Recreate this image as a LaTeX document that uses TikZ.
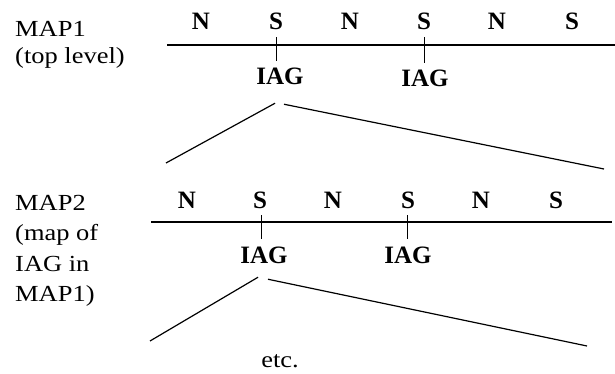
\documentclass[tikz,border=0pt]{standalone}
\usepackage{fontspec}
\setmainfont{Liberation Serif}
\begin{document}
\begin{tikzpicture}[
              x=1pt, y=-1pt,
              pole/.style={font=\fontsize{25}{25}\selectfont\bfseries,anchor=base,inner sep=0pt,outer sep=7pt},
              gap/.style={font=\fontsize{25}{25}\selectfont\bfseries,anchor=base,inner sep=0pt,outer sep=7pt},
              title/.style={anchor=north west,align=left,inner sep=0pt,xscale=1.15},
              axis/.style={line width=1.6pt},
              tick/.style={line width=0.8pt},
              fan/.style={line width=1.2pt}
            ]
            \useasboundingbox (0,0) rectangle (615,374);

            % Map 1: top level
            \node[title,font=\fontsize{23}{27}\selectfont] (map1) at (15,21) {MAP1\\(top level)};
            \coordinate (a1) at (167,45);
            \coordinate (b1) at (615,45);
            \draw[axis] (a1) -- (b1);
            \node[pole] (n11) at (201,30) {N};
            \node[pole] (s12) at (276,30) {S};
            \node[pole] (n13) at (350,30) {N};
            \node[pole] (s14) at (424,30) {S};
            \node[pole] (n15) at (497,30) {N};
            \node[pole] (s16) at (572,30) {S};
            \node[gap] (iag12) at (280,85) {IAG};
            \node[gap] (iag14) at (425,87) {IAG};
            \draw[tick] (s12.south) -- (s12.south |- iag12.north);
            \draw[tick] (s14.south) -- (s14.south |- iag14.north);

            % Zoom of IAG into map 2
            \coordinate (l1) at (166,163);
            \coordinate (r1) at (604,169);
            \draw[fan] ([xshift=-5pt,yshift=-11pt]iag12.south) -- (l1);
            \draw[fan] ([xshift=4pt,yshift=-12pt]iag12.south) -- (r1);

            % Map 2: map of IAG in map 1
            \node[title,font=\fontsize{23}{30.5}\selectfont] (map2) at (15,195) {MAP2\\(map of\\IAG in\\MAP1)};
            \coordinate (a2) at (151,222);
            \coordinate (b2) at (612,222);
            \draw[axis] (a2) -- (b2);
            \node[pole] (n21) at (187,208) {N};
            \node[pole] (s22) at (260,208) {S};
            \node[pole] (n23) at (333,208) {N};
            \node[pole] (s24) at (408,208) {S};
            \node[pole] (n25) at (481,208) {N};
            \node[pole] (s26) at (556,208) {S};
            \node[gap] (iag22) at (264,263) {IAG};
            \node[gap] (iag24) at (408,263) {IAG};
            \draw[tick] ([xshift=1pt]s22.south) -- ([xshift=1pt]s22.south |- iag22.north);
            \draw[tick] ([xshift=-1pt]s24.south) -- ([xshift=-1pt]s24.south |- iag24.north);

            % Next level
            \coordinate (l2) at (150,341);
            \coordinate (r2) at (587,346);
            \draw[fan] ([xshift=-6pt,yshift=-7pt]iag22.south) -- (l2);
            \draw[fan] ([xshift=4pt,yshift=-9pt]iag22.south) -- (r2);
            \node[font=\fontsize{23}{23}\selectfont,anchor=base,xscale=1.15] (etc) at (280,367) {etc.};

            \end{tikzpicture}
\end{document}
